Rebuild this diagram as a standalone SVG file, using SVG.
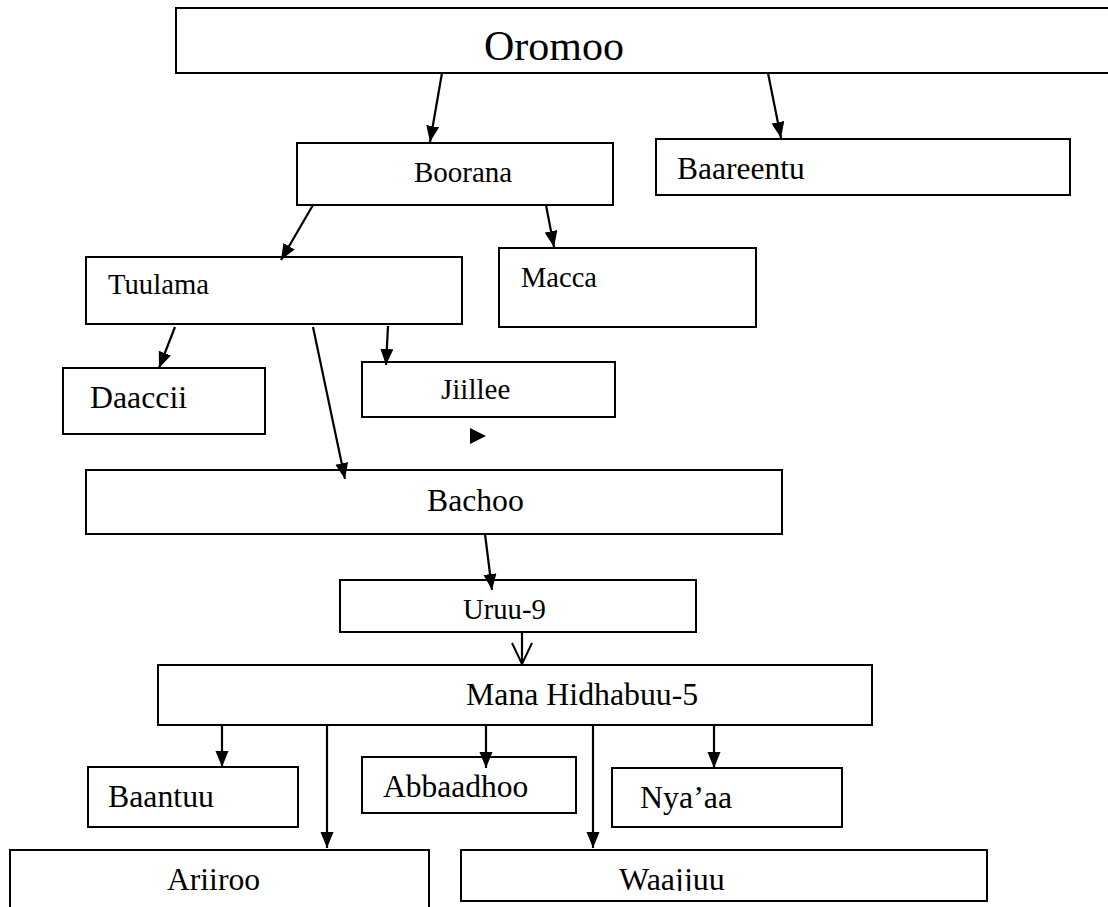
<svg xmlns="http://www.w3.org/2000/svg" width="1108" height="907" viewBox="0 0 1108 907">
<style>
.box{fill:#fff;stroke:#000;stroke-width:2}
.t{font-family:"Liberation Serif","Times New Roman",serif;fill:#000}
.c{stroke:#000;stroke-width:2.2;fill:none}
</style>
<defs>
<marker id="ah" markerUnits="userSpaceOnUse" markerWidth="18" markerHeight="14" refX="16" refY="6.5" orient="auto">
<path d="M0,0 L16,6.5 L0,13 z" fill="#000"/>
</marker>
<marker id="ov" markerUnits="userSpaceOnUse" markerWidth="24" markerHeight="24" refX="22" refY="11" orient="auto">
<path d="M1,1 L22,11 L1,21" fill="none" stroke="#000" stroke-width="2"/>
</marker>
<clipPath id="wclip"><rect x="461" y="850" width="526" height="41"/></clipPath>
</defs>
<rect width="1108" height="907" fill="#fff"/>

<g id="oromoo"><rect class="box" x="176" y="8" width="940" height="65"/><text class="t" x="484" y="60" font-size="42">Oromoo</text></g>
<g id="boorana"><rect class="box" x="297" y="143" width="316" height="62"/><text class="t" x="414" y="182" font-size="29">Boorana</text></g>
<g id="baareentu"><rect class="box" x="656" y="139" width="414" height="56"/><text class="t" x="677" y="179" font-size="31.5">Baareentu</text></g>
<g id="tuulama"><rect class="box" x="86" y="257" width="376" height="67"/><text class="t" x="108" y="294" font-size="28.7">Tuulama</text></g>
<g id="macca"><rect class="box" x="499" y="248" width="257" height="79"/><text class="t" x="521" y="287" font-size="28.5">Macca</text></g>
<g id="daaccii"><rect class="box" x="63" y="368" width="202" height="66"/><text class="t" x="90" y="408" font-size="31.8">Daaccii</text></g>
<g id="jiillee"><rect class="box" x="362" y="362" width="253" height="55"/><text class="t" x="441" y="399" font-size="29">Jiillee</text></g>
<g id="bachoo"><rect class="box" x="86" y="470" width="696" height="64"/><text class="t" x="427" y="511" font-size="31.7">Bachoo</text></g>
<g id="uruu9"><rect class="box" x="340" y="580" width="356" height="52"/><text class="t" x="463" y="619" font-size="28.7">Uruu-9</text></g>
<g id="mana"><rect class="box" x="158" y="665" width="714" height="60"/><text class="t" x="466" y="705" font-size="31.8">Mana Hidhabuu-5</text></g>
<g id="baantuu"><rect class="box" x="88" y="767" width="210" height="60"/><text class="t" x="108" y="807" font-size="31.8">Baantuu</text></g>
<g id="abbaadhoo"><rect class="box" x="362" y="757" width="214" height="56"/><text class="t" x="383" y="797" font-size="31.5">Abbaadhoo</text></g>
<g id="nyaa"><rect class="box" x="612" y="768" width="230" height="59"/><text class="t" x="640" y="808" font-size="31.9">Nya’aa</text></g>
<g id="ariiroo"><rect class="box" x="10" y="850" width="419" height="70"/><text class="t" x="167" y="890" font-size="31.6">Ariiroo</text></g>
<g id="waajjuu"><rect class="box" x="461" y="850" width="526" height="51"/><text class="t" x="619" y="890" font-size="32" clip-path="url(#wclip)">Waajjuu</text></g>

<g id="connectors">
<line class="c" x1="442" y1="73" x2="430" y2="142" marker-end="url(#ah)"/>
<line class="c" x1="768" y1="73" x2="781" y2="138" marker-end="url(#ah)"/>
<line class="c" x1="313" y1="205" x2="281" y2="260" marker-end="url(#ah)"/>
<line class="c" x1="546" y1="205" x2="554" y2="247" marker-end="url(#ah)"/>
<line class="c" x1="175" y1="327" x2="159" y2="368" marker-end="url(#ah)"/>
<line class="c" x1="388" y1="326" x2="386" y2="365" marker-end="url(#ah)"/>
<line class="c" x1="313" y1="327" x2="345" y2="479" marker-end="url(#ah)"/>
<line class="c" x1="485" y1="534" x2="492" y2="590" marker-end="url(#ah)"/>
<line class="c" x1="522" y1="632" x2="522" y2="664" marker-end="url(#ov)"/>
<line class="c" x1="222" y1="725" x2="222" y2="767" marker-end="url(#ah)"/>
<line class="c" x1="327" y1="725" x2="327" y2="848" marker-end="url(#ah)"/>
<line class="c" x1="486" y1="725" x2="486" y2="768" marker-end="url(#ah)"/>
<line class="c" x1="593" y1="725" x2="593" y2="848" marker-end="url(#ah)"/>
<line class="c" x1="714" y1="725" x2="714" y2="768" marker-end="url(#ah)"/>
<path d="M470,428 L486,436 L470,444 z" fill="#000"/>
</g>
</svg>
